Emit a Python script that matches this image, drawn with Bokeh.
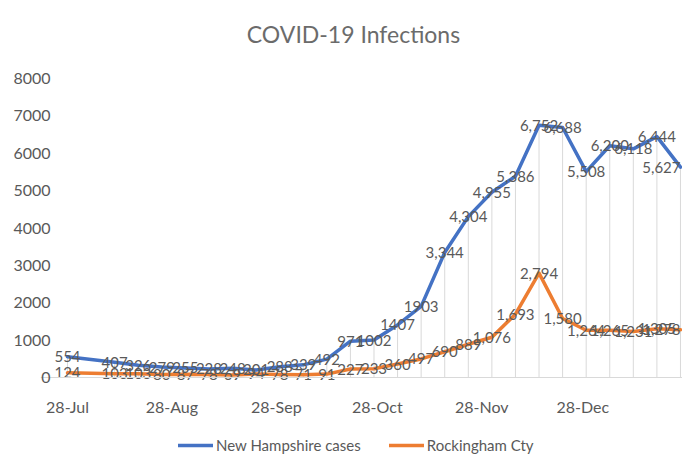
import datetime as dt
from bokeh.plotting import figure
from bokeh.models import (Range1d, FixedTicker, DatetimeTickFormatter, Legend,
                          LegendItem, Label)
from bokeh.core.properties import value
from bokeh.embed import file_html
from bokeh.resources import INLINE

# ---------------- data ----------------
dates = ["2020-07-28", "2020-08-11", "2020-08-18", "2020-08-25", "2020-09-01",
         "2020-09-08", "2020-09-15", "2020-09-22", "2020-09-29", "2020-10-06",
         "2020-10-13", "2020-10-20", "2020-10-27", "2020-11-03", "2020-11-10",
         "2020-11-17", "2020-11-24", "2020-12-01", "2020-12-08", "2020-12-15",
         "2020-12-22", "2020-12-29", "2021-01-05", "2021-01-12", "2021-01-19",
         "2021-01-26"]
nh_cases = [554, 407, 326, 279, 255, 228, 248, 201, 288, 339, 492, 971, 1002,
            1407, 1903, 3344, 4304, 4955, 5386, 6752, 6688, 5508, 6200, 6118,
            6444, 5627]
rockingham = [124, 103, 103, 80, 87, 78, 69, 94, 78, 71, 91, 227, 233, 360, 497,
              690, 889, 1076, 1693, 2794, 1580, 1264, 1265, 1231, 1305, 1278]
nh_comma_from = 15          # NH labels use thousands separators from this point
series_names = ["New Hampshire cases", "Rockingham Cty"]
x_tick_dates = ["2020-07-28", "2020-08-28", "2020-09-28", "2020-10-28",
                "2020-11-28", "2020-12-28"]
y_ticks = [0, 1000, 2000, 3000, 4000, 5000, 6000, 7000, 8000]
title_text = "COVID-19 Infections"

# ---------------- styling ----------------
FONT = "Lato"
TXT = "#595959"
BLUE = "#4472C4"
ORANGE = "#ED7D31"

def to_dt(s):
    return dt.datetime.strptime(s, "%Y-%m-%d")

xd = [to_dt(s) for s in dates]
drop_top = [max(a, b) for a, b in zip(nh_cases, rockingham)]
nh_labels = [(f"{v:,}" if i >= nh_comma_from else f"{v}") for i, v in enumerate(nh_cases)]
rk_labels = [f"{v:,}" for v in rockingham]
# keep the last label inside the canvas
label_align = ["center"] * (len(xd) - 1) + ["right"]

# layout: frame spans x 40..682, y 0..460; value 0 at y=377, 8000 at y=78
W, H = 682, 460
FRAME_LEFT = 40
x_start = xd[0] - dt.timedelta(days=8.02)
x_end = xd[-1] + dt.timedelta(days=0.6)
px_per_1000 = (377 - 78) / 8.0
y_bottom = -(H - 377) / px_per_1000 * 1000
y_top = 8000 + 78 / px_per_1000 * 1000

p = figure(width=W, height=H, x_axis_type="datetime",
           x_range=Range1d(x_start, x_end), y_range=Range1d(y_bottom, y_top),
           output_backend="svg", toolbar_location=None,
           min_border_left=FRAME_LEFT, min_border_right=0, min_border_top=0,
           min_border_bottom=0)
p.outline_line_color = None
p.background_fill_color = "white"
p.border_fill_color = "white"
p.xgrid.visible = False
p.ygrid.visible = False

# title (frame covers the whole height; screen units measured from frame bottom-left)
p.add_layout(Label(x=353 - FRAME_LEFT, y=H - 33, x_units="screen", y_units="screen",
                   text=title_text, text_align="center", text_baseline="middle",
                   text_font=FONT, text_font_size="23px", text_color="#6b6b6b"))

# drop lines
p.segment(x0=xd, y0=[0] * len(xd), x1=xd, y1=drop_top,
          line_color="#d9d9d9", line_width=1)

r_nh = p.line(xd, nh_cases, line_color=BLUE, line_width=3.5,
              line_cap="round", line_join="round")
r_rk = p.line(xd, rockingham, line_color=ORANGE, line_width=3.5,
              line_cap="round", line_join="round")

for vals, labs in ((nh_cases, nh_labels), (rockingham, rk_labels)):
    p.text(x=xd, y=vals, text=labs, text_align=label_align, text_baseline="middle",
           text_font=value(FONT), text_font_size="15px", text_color=TXT)

# axes
p.yaxis.ticker = FixedTicker(ticks=y_ticks)
p.yaxis.axis_line_color = None
p.yaxis.major_tick_line_color = None
p.yaxis.minor_tick_line_color = None
p.yaxis.major_tick_out = 0
p.yaxis.major_label_standoff = -10
p.yaxis.major_label_text_font = FONT
p.yaxis.major_label_text_font_size = "16px"
p.yaxis.major_label_text_color = TXT

tick_ms = [to_dt(s).replace(tzinfo=dt.timezone.utc).timestamp() * 1000 for s in x_tick_dates]
p.xaxis.ticker = FixedTicker(ticks=tick_ms)
fmt = "%d-%b"
p.xaxis.formatter = DatetimeTickFormatter(days=fmt, months=fmt, years=fmt,
                                          hours=fmt, minutes=fmt, seconds=fmt,
                                          milliseconds=fmt, microseconds=fmt)
p.xaxis.fixed_location = 0
p.xaxis.axis_line_color = "#d9d9d9"
p.xaxis.axis_line_width = 1
p.xaxis.major_tick_line_color = None
p.xaxis.minor_tick_line_color = None
p.xaxis.major_tick_out = 0
p.xaxis.major_label_standoff = 19
p.xaxis.major_label_text_font = FONT
p.xaxis.major_label_text_font_size = "16px"
p.xaxis.major_label_text_color = TXT

legend = Legend(items=[LegendItem(label=series_names[0], renderers=[r_nh]),
                       LegendItem(label=series_names[1], renderers=[r_rk])],
                orientation="horizontal", location=(138, 5),
                border_line_color=None, background_fill_alpha=0,
                label_text_font=FONT, label_text_font_size="15px",
                label_text_color=TXT, glyph_width=35, label_standoff=3,
                spacing=28, padding=4, margin=0)
p.add_layout(legend)

open("out.html", "w").write(file_html(p, INLINE))
